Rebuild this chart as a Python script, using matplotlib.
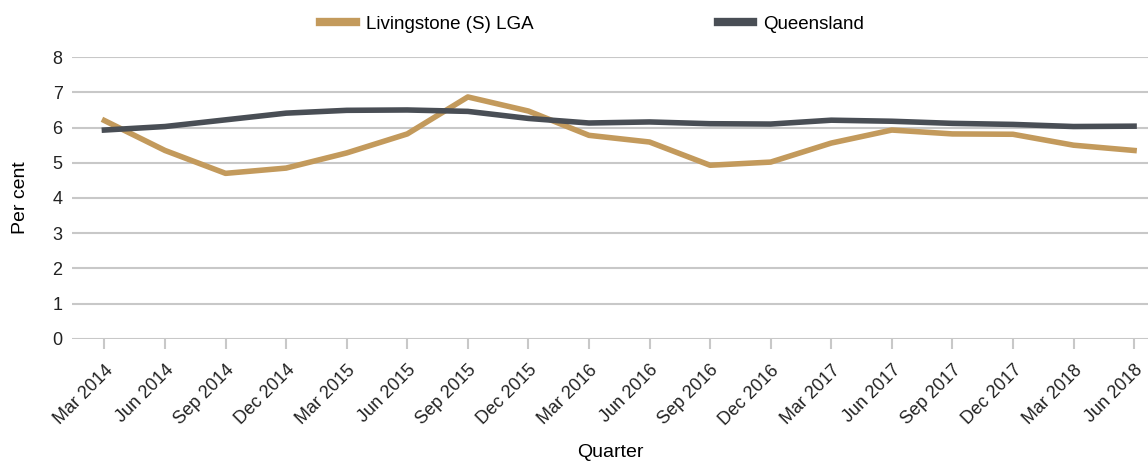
import matplotlib.pyplot as plt

plt.rcParams["font.family"] = ["Liberation Sans", "DejaVu Sans"]

quarters = ["Mar 2014", "Jun 2014", "Sep 2014", "Dec 2014", "Mar 2015", "Jun 2015",
            "Sep 2015", "Dec 2015", "Mar 2016", "Jun 2016", "Sep 2016", "Dec 2016",
            "Mar 2017", "Jun 2017", "Sep 2017", "Dec 2017", "Mar 2018", "Jun 2018"]
livingstone = [6.2, 5.35, 4.7, 4.85, 5.28, 5.82, 6.87, 6.47, 5.78, 5.59, 4.93, 5.02,
               5.56, 5.93, 5.82, 5.81, 5.5, 5.35]
queensland = [5.93, 6.03, 6.22, 6.41, 6.49, 6.5, 6.46, 6.26, 6.13, 6.16, 6.11, 6.1,
              6.21, 6.18, 6.12, 6.09, 6.03, 6.04]

COR_LGA = "#C39A5C"
COR_QLD = "#494E55"
COR_GRADE = "#C8C8C8"

fig = plt.figure(figsize=(11.48, 4.61), dpi=100)
ax = fig.add_axes([0.063, 0.265, 0.937, 0.611])

x = range(len(quarters))
ax.plot(x, livingstone, color=COR_LGA, linewidth=4, label="Livingstone (S) LGA")
ax.plot(x, queensland, color=COR_QLD, linewidth=4, label="Queensland")

ax.set_ylim(0, 8)
ax.set_yticks(range(0, 9))
ax.set_xlim(-0.53, 17.23)
ax.set_xticks(list(x))
ax.set_xticklabels(quarters, rotation=45, ha="right", rotation_mode="anchor")
ax.tick_params(axis="y", length=0, labelsize=13, colors="#222222", pad=7)
ax.tick_params(axis="x", length=7.5, width=1.5, color=COR_GRADE,
               labelsize=13, labelcolor="#222222", pad=9)
ax.grid(axis="y", color=COR_GRADE, linewidth=1.5)
ax.set_axisbelow(True)
for s in ax.spines.values():
    s.set_visible(False)

ax.set_xlabel("Quarter", fontsize=14, labelpad=11)
ax.set_ylabel("Per cent", fontsize=14, labelpad=17)

leg = fig.legend(loc="center", bbox_to_anchor=(0.516, 0.948), ncol=2, frameon=False,
                 fontsize=13.5, handlelength=1.9, handletextpad=0.55, columnspacing=9.8)
for h in leg.get_lines():
    h.set_linewidth(6)

fig.savefig("out.png", dpi=100, facecolor="white")
